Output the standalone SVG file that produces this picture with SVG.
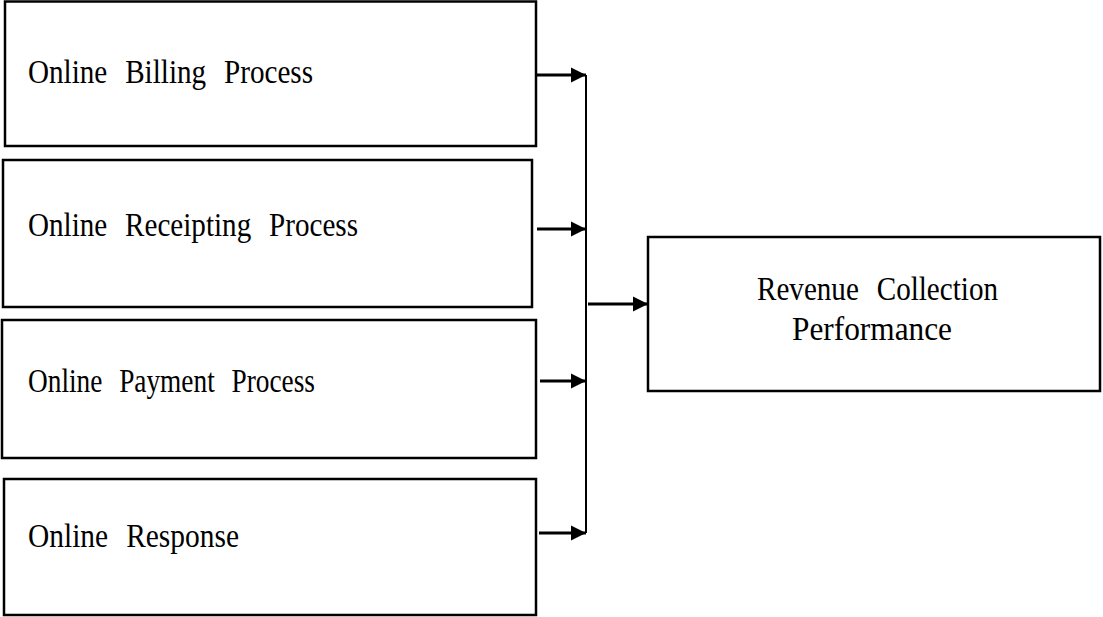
<svg xmlns="http://www.w3.org/2000/svg" width="1103" height="617" viewBox="0 0 1103 617">
  <style>
    .box { fill: #ffffff; stroke: #000000; stroke-width: 2.5; }
    .lbl { font-family: "Liberation Serif", "Times New Roman", serif; font-size: 33px; fill: #000000; word-spacing: 12px; }
    .arr { stroke: #000000; stroke-width: 3; fill: none; marker-end: url(#ah); }
    .bus { stroke: #000000; stroke-width: 2; fill: none; }
  </style>
  <defs>
    <marker id="ah" markerUnits="userSpaceOnUse" markerWidth="16" markerHeight="16" refX="15" refY="8" orient="auto">
      <polygon points="0,0.5 15,8 0,15.5" fill="#000000"/>
    </marker>
  </defs>
  <rect x="0" y="0" width="1103" height="617" fill="#ffffff"/>

  <g id="node-billing">
    <rect class="box" x="5" y="1.5" width="531" height="144.5"/>
    <text class="lbl" x="28" y="83" textLength="285" lengthAdjust="spacingAndGlyphs">Online Billing Process</text>
  </g>
  <g id="node-receipting">
    <rect class="box" x="3" y="160" width="529" height="147"/>
    <text class="lbl" x="28" y="236" textLength="330" lengthAdjust="spacingAndGlyphs">Online Receipting Process</text>
  </g>
  <g id="node-payment">
    <rect class="box" x="2" y="320" width="534" height="138"/>
    <text class="lbl" x="28" y="392" textLength="287" lengthAdjust="spacingAndGlyphs">Online Payment Process</text>
  </g>
  <g id="node-response">
    <rect class="box" x="4" y="479" width="532" height="136"/>
    <text class="lbl" x="28" y="547" textLength="211" lengthAdjust="spacingAndGlyphs">Online Response</text>
  </g>
  <g id="node-revenue">
    <rect class="box" x="648" y="237" width="452" height="154"/>
    <text class="lbl" x="757" y="300" textLength="241" lengthAdjust="spacingAndGlyphs">Revenue Collection</text>
    <text class="lbl" x="792" y="340" textLength="160" lengthAdjust="spacingAndGlyphs">Performance</text>
  </g>

  <g id="connectors">
    <line class="bus" x1="586" y1="75" x2="586" y2="533"/>
    <line class="arr" x1="537" y1="75" x2="586" y2="75"/>
    <line class="arr" x1="537" y1="229" x2="586" y2="229"/>
    <line class="arr" x1="540" y1="381" x2="586" y2="381"/>
    <line class="arr" x1="539" y1="533" x2="586" y2="533"/>
    <line class="arr" x1="588" y1="304" x2="648" y2="304"/>
  </g>
</svg>
